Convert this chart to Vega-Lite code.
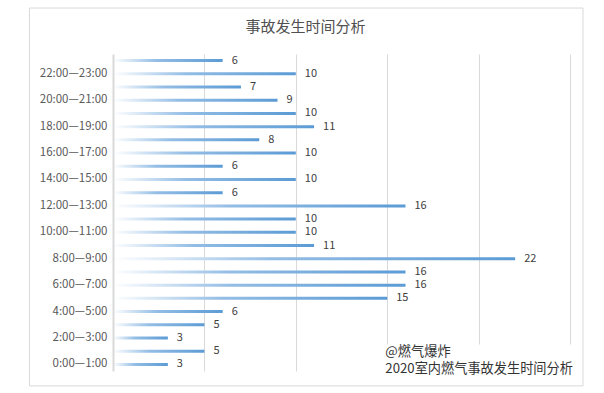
{
  "$schema": "https://vega.github.io/schema/vega-lite/v6.json",
  "autosize": {"type": "none"},
  "padding": {"left": 113, "top": 54, "right": 34, "bottom": 22},
  "width": 457,
  "height": 317,
  "background": "#ffffff",
  "title": {
    "text": "事故发生时间分析",
    "anchor": "middle",
    "frame": "group",
    "dx": -36,
    "offset": -27,
    "font": "Noto Sans CJK SC",
    "fontSize": 15,
    "fontWeight": "normal",
    "color": "#505050"
  },
  "config": {
    "view": {"stroke": null},
    "font": "Noto Sans CJK SC"
  },
  "datasets": {
    "accidents": [
      {"time": "23:00—24:00", "count": 6},
      {"time": "22:00—23:00", "count": 10},
      {"time": "21:00—22:00", "count": 7},
      {"time": "20:00—21:00", "count": 9},
      {"time": "19:00—20:00", "count": 10},
      {"time": "18:00—19:00", "count": 11},
      {"time": "17:00—18:00", "count": 8},
      {"time": "16:00—17:00", "count": 10},
      {"time": "15:00—16:00", "count": 6},
      {"time": "14:00—15:00", "count": 10},
      {"time": "13:00—14:00", "count": 6},
      {"time": "12:00—13:00", "count": 16},
      {"time": "11:00—12:00", "count": 10},
      {"time": "10:00—11:00", "count": 10},
      {"time": "9:00—10:00", "count": 11},
      {"time": "8:00—9:00", "count": 22},
      {"time": "7:00—8:00", "count": 16},
      {"time": "6:00—7:00", "count": 16},
      {"time": "5:00—6:00", "count": 15},
      {"time": "4:00—5:00", "count": 6},
      {"time": "3:00—4:00", "count": 5},
      {"time": "2:00—3:00", "count": 3},
      {"time": "1:00—2:00", "count": 5},
      {"time": "0:00—1:00", "count": 3}
    ],
    "notes": [
      {"note": "@燃气爆炸", "at": "1:00—2:00"},
      {"note": "2020室内燃气事故发生时间分析", "at": "0:00—1:00"}
    ]
  },
  "resolve": {"scale": {"y": "independent"}},
  "layer": [
    {
      "data": {"values": [{"frame": "chart area"}]},
      "mark": {"type": "rect", "fill": "#ffffff", "fillOpacity": 0, "stroke": "#d9d9d9", "strokeWidth": 1},
      "encoding": {
        "x": {"datum": -4.57, "type": "quantitative"},
        "x2": {"datum": 25.71},
        "y": {"datum": -0.047, "type": "quantitative", "scale": {"domain": [0, 1], "nice": false, "zero": false}, "axis": null},
        "y2": {"datum": 1.145}
      }
    },
    {
      "layer": [
        {
          "data": {"name": "accidents"},
          "mark": {
            "type": "bar",
            "size": 3,
            "color": {
              "x1": 0, "y1": 0, "x2": 1, "y2": 0,
              "gradient": "linear",
              "stops": [
                {"offset": 0, "color": "#ffffff"},
                {"offset": 0.4, "color": "#93bde5"},
                {"offset": 1, "color": "#5b9bd5"}
              ]
            }
          },
          "encoding": {
            "y": {
              "field": "time",
              "type": "nominal",
              "sort": null,
              "scale": {"paddingInner": 0, "paddingOuter": 0},
              "axis": {
                "title": null,
                "values": ["22:00—23:00", "20:00—21:00", "18:00—19:00", "16:00—17:00", "14:00—15:00", "12:00—13:00", "10:00—11:00", "8:00—9:00", "6:00—7:00", "4:00—5:00", "2:00—3:00", "0:00—1:00"],
                "ticks": false,
                "labelPadding": 6,
                "labelFontSize": 11.5,
                "labelColor": "#595959",
                "labelFont": "Noto Sans CJK SC",
                "domainColor": "#d9d9d9",
                "domainWidth": 2,
                "grid": false,
                "zindex": 1
              }
            },
            "x": {
              "field": "count",
              "type": "quantitative",
              "scale": {"domain": [0, 25], "nice": false},
              "axis": {
                "title": null,
                "labels": false,
                "ticks": false,
                "domain": false,
                "values": [5, 10, 15, 20, 25],
                "grid": true,
                "gridColor": "#d9d9d9",
                "gridWidth": 1
              }
            }
          }
        },
        {
          "data": {"name": "accidents"},
          "mark": {
            "type": "text",
            "align": "left",
            "baseline": "middle",
            "dx": 9,
            "fontSize": 11,
            "color": "#404040",
            "font": "Noto Sans CJK SC"
          },
          "encoding": {
            "y": {"field": "time", "type": "nominal", "sort": null},
            "x": {"field": "count", "type": "quantitative"},
            "text": {"field": "count", "type": "quantitative"}
          }
        },
        {
          "data": {"name": "notes"},
          "mark": {"type": "rect", "color": "#ffffff"},
          "encoding": {
            "x": {"datum": 14.55, "type": "quantitative"},
            "x2": {"datum": 25.4},
            "y": {"field": "at", "type": "nominal", "sort": null}
          }
        },
        {
          "data": {"name": "notes"},
          "transform": [{"filter": "datum.at === '1:00—2:00'"}],
          "mark": {
            "type": "text",
            "align": "left",
            "baseline": "middle",
            "dy": 1,
            "fontSize": 13.2,
            "color": "#333333",
            "font": "Noto Sans CJK SC"
          },
          "encoding": {
            "x": {"datum": 14.9, "type": "quantitative"},
            "y": {"field": "at", "type": "nominal", "sort": null},
            "text": {"field": "note", "type": "nominal"}
          }
        },
        {
          "data": {"name": "notes"},
          "transform": [{"filter": "datum.at === '0:00—1:00'"}],
          "mark": {
            "type": "text",
            "align": "left",
            "baseline": "middle",
            "dy": 5,
            "fontSize": 13.2,
            "color": "#333333",
            "font": "Noto Sans CJK SC"
          },
          "encoding": {
            "x": {"datum": 14.9, "type": "quantitative"},
            "y": {"field": "at", "type": "nominal", "sort": null},
            "text": {"field": "note", "type": "nominal"}
          }
        }
      ]
    }
  ]
}
